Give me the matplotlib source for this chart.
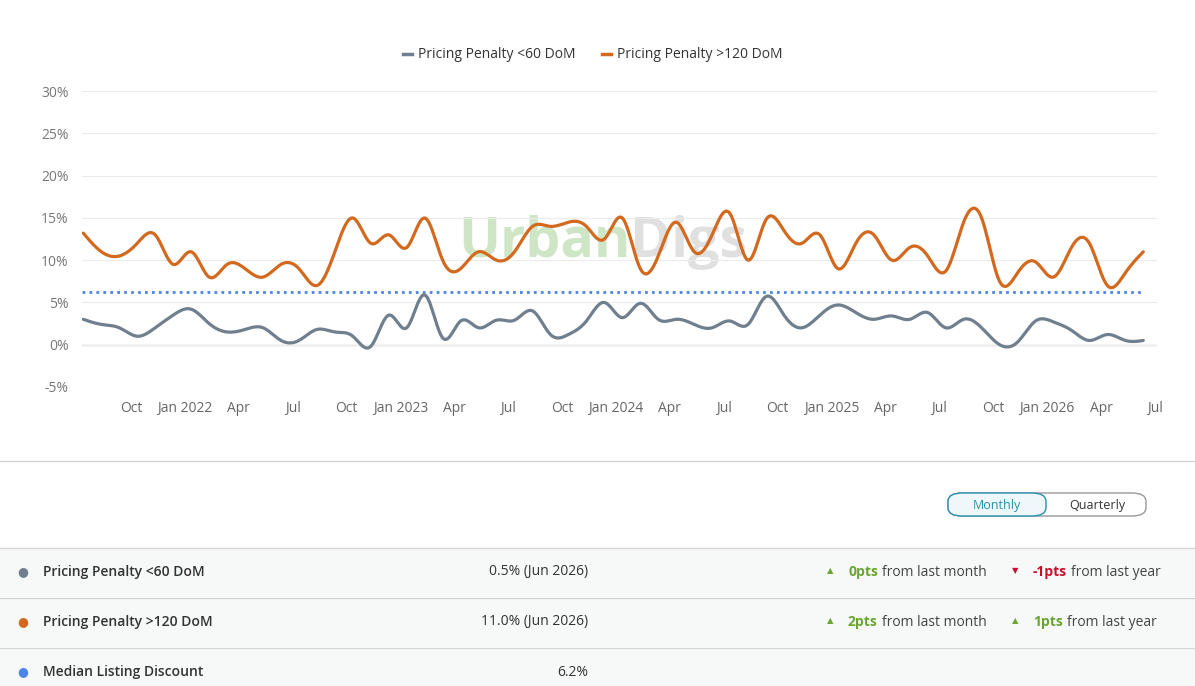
import numpy as np
import matplotlib.pyplot as plt
from matplotlib.patches import FancyBboxPatch, Rectangle

plt.rcParams['font.family'] = ['Open Sans', 'DejaVu Sans']

# monthly values, Jul 2021 .. Jun 2026
penalty_60 = [3.0, 2.4, 2.0, 1.0, 2.0, 3.5, 4.2, 2.5, 1.5, 1.8, 2.0, 0.5,
              0.5, 1.8, 1.5, 1.0, -0.2, 3.5, 2.0, 5.9, 0.8, 2.8, 2.0, 2.9,
              2.9, 4.0, 1.2, 1.2, 2.8, 5.0, 3.2, 4.9, 3.0, 3.0, 2.4, 2.0,
              2.8, 2.4, 5.7, 3.5, 2.0, 3.5, 4.7, 3.8, 3.0, 3.4, 3.0, 3.8,
              2.0, 3.0, 2.0, 0.0, 0.3, 2.8, 2.7, 1.7, 0.5, 1.2, 0.5, 0.5]
penalty_120 = [13.2, 11.0, 10.5, 12.0, 13.0, 9.5, 11.0, 8.0, 9.5, 9.0, 8.0, 9.5,
               9.0, 7.0, 11.0, 15.0, 12.0, 13.0, 11.5, 15.0, 10.0, 9.0, 11.0, 10.0,
               11.0, 14.0, 14.0, 14.5, 14.0, 12.5, 15.0, 9.0, 10.5, 14.5, 11.0, 13.0,
               15.5, 10.0, 14.8, 13.5, 12.0, 13.0, 9.0, 12.0, 13.0, 10.0, 11.5, 10.5,
               8.7, 14.5, 15.0, 7.5, 8.5, 9.8, 8.0, 11.5, 12.0, 7.0, 8.5, 11.0]
median_discount = 6.2
tick_pos = [3, 6, 9, 12, 15, 18, 21, 24, 27, 30, 33, 36, 39, 42, 45, 48, 51, 54, 57, 60]
tick_labels = ['Oct', 'Jan 2022', 'Apr', 'Jul', 'Oct', 'Jan 2023', 'Apr', 'Jul', 'Oct',
               'Jan 2024', 'Apr', 'Jul', 'Oct', 'Jan 2025', 'Apr', 'Jul', 'Oct',
               'Jan 2026', 'Apr', 'Jul']


def spline(y, n=12):
    # natural cubic spline through monthly points
    y = np.asarray(y, float)
    m = len(y)
    A = np.zeros((m, m)); b = np.zeros(m)
    A[0, 0] = A[-1, -1] = 1
    for i in range(1, m - 1):
        A[i, i - 1], A[i, i], A[i, i + 1] = 1, 4, 1
        b[i] = 6 * (y[i + 1] - 2 * y[i] + y[i - 1])
    M = np.linalg.solve(A, b)
    xs, ys = [], []
    for i in range(m - 1):
        t = np.linspace(0, 1, n, endpoint=False)
        ys.append((1 - t) * y[i] + t * y[i + 1] + ((1 - t) ** 3 - (1 - t)) * M[i] / 6 + (t ** 3 - t) * M[i + 1] / 6)
        xs.append(i + t)
    return np.append(np.concatenate(xs), m - 1), np.append(np.concatenate(ys), y[-1])


fig = plt.figure(figsize=(11.95, 6.86), dpi=100)
ax = fig.add_axes([0.069, 0.436, 0.899, 0.431])
for s, c in [(penalty_60, '#6f7f8e'), (penalty_120, '#d2691e')]:
    xs, ys = spline(s)
    ax.plot(xs, ys, color=c, lw=2.3, solid_capstyle='round', zorder=3)
x0, x1 = -0.05, 59.75
ax.axhline(median_discount, xmin=0, xmax=(59 - x0) / (x1 - x0), color='#4a86e8', lw=2, ls=(0, (1, 1.5)), zorder=2)
ax.set_xlim(x0, x1)
ax.set_ylim(-5, 30)
ax.set_yticks(range(-5, 31, 5))
ax.set_yticklabels([f'{v}%' for v in range(-5, 31, 5)], color='#777777', fontsize=10)
ax.set_xticks([p - 0.35 for p in tick_pos])
ax.set_xticklabels(tick_labels, color='#666666', fontsize=10)
ax.tick_params(length=0, pad=10)
ax.grid(axis='y', color='#ebebeb', lw=0.8)
for sp in ax.spines.values():
    sp.set_visible(False)
ax.axhline(0, color='#cccccc', lw=1, zorder=1)
ax.text(0.51, 0.49, 'Urban', transform=ax.transAxes, ha='right', va='center', fontsize=40,
        fontweight='bold', color='#cfe6c6', zorder=1)
ax.text(0.51, 0.49, 'Digs', transform=ax.transAxes, ha='left', va='center', fontsize=40,
        fontweight='bold', color='#e0e0e0', zorder=1)

W, H = 1195, 686
def fx(px): return px / W
def fy(py): return 1 - py / H

# legend
fig.lines.append(plt.Line2D([fx(403), fx(412)], [fy(54)] * 2, color='#6f7f8e', lw=2.5, transform=fig.transFigure))
fig.text(fx(418), fy(54), 'Pricing Penalty <60 DoM', va='center', fontsize=10, color='#333333')
fig.lines.append(plt.Line2D([fx(602), fx(611)], [fy(54)] * 2, color='#d2691e', lw=2.5, transform=fig.transFigure))
fig.text(fx(617), fy(54), 'Pricing Penalty >120 DoM', va='center', fontsize=10, color='#333333')

fig.lines.append(plt.Line2D([0, 1], [fy(461)] * 2, color='#d5d5d5', lw=1, transform=fig.transFigure))
# buttons
fig.patches.append(FancyBboxPatch((fx(948), fy(516)), fx(198), 23 / H, boxstyle='round,pad=0,rounding_size=0.012',
                                  fc='white', ec='#999999', lw=1, transform=fig.transFigure))
fig.patches.append(FancyBboxPatch((fx(948), fy(516)), fx(98), 23 / H, boxstyle='round,pad=0,rounding_size=0.012',
                                  fc='#eef8fb', ec='#2a8fb0', lw=1, transform=fig.transFigure))
fig.text(fx(997), fy(505), 'Monthly', ha='center', va='center', fontsize=9, color='#2a8fb0')
fig.text(fx(1097), fy(505), 'Quarterly', ha='center', va='center', fontsize=9, color='#333333')

rows = [('Pricing Penalty <60 DoM', '#6f7f8e', '0.5% (Jun 2026)', [('0pts', 'up'), ('-1pts', 'down')]),
        ('Pricing Penalty >120 DoM', '#d2691e', '11.0% (Jun 2026)', [('2pts', 'up'), ('1pts', 'up')]),
        ('Median Listing Discount', '#4a86e8', '6.2%', [])]
renderer = fig.canvas.get_renderer()
for k, (name, col, val, chg) in enumerate(rows):
    top = 548 + k * 50
    fig.patches.append(Rectangle((0, fy(top + 49)), 1, 49 / H, fc='#f7f8f8', ec='none', transform=fig.transFigure))
    fig.lines.append(plt.Line2D([0, 1], [fy(top)] * 2, color='#d5d5d5', lw=1, transform=fig.transFigure))
    cy = fy(top + 24)
    fig.text(fx(23), cy, '●', ha='center', va='center', fontsize=9, color=col)
    fig.text(fx(43), cy, name, va='center', fontsize=10, fontweight='semibold', color='#333333')
    fig.text(fx(588), cy, val, ha='right', va='center', fontsize=10, color='#333333')
    for j, (txt, d) in enumerate(chg):
        xa = 830 if j == 0 else 1015
        c = '#6aa531' if d == 'up' else '#c8102e'
        fig.text(fx(xa), cy, '▲' if d == 'up' else '▼', ha='center', va='center', fontsize=6, color=c)
        t = fig.text(fx(xa + 18), cy, txt, va='center', fontsize=10, fontweight='bold', color=c)
        w = t.get_window_extent(renderer).width
        fig.text(fx(xa + 18 + w + 4), cy, 'from last month' if j == 0 else 'from last year',
                 va='center', fontsize=10, color='#444444')

fig.savefig('out.png', dpi=100)
